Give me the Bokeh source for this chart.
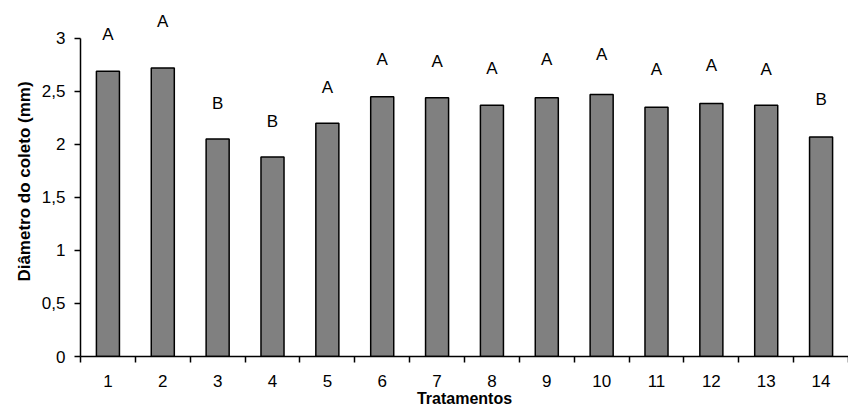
from bokeh.plotting import figure
from bokeh.models import ColumnDataSource, FixedTicker, LabelSet, Range1d
from bokeh.core.properties import value
from bokeh.embed import file_html
from bokeh.resources import INLINE

tratamentos = [1, 2, 3, 4, 5, 6, 7, 8, 9, 10, 11, 12, 13, 14]
diametro = [2.69, 2.72, 2.05, 1.88, 2.20, 2.45, 2.44, 2.37, 2.44, 2.47, 2.35, 2.385, 2.37, 2.07]
letras = ["A", "A", "B", "B", "A", "A", "A", "A", "A", "A", "A", "A", "A", "B"]
letra_y = [3.04, 3.16, 2.39, 2.22, 2.54, 2.80, 2.78, 2.72, 2.80, 2.85, 2.71, 2.74, 2.71, 2.42]
y_ticks = [0, 0.5, 1, 1.5, 2, 2.5, 3]
y_tick_labels = ["0", "0,5", "1", "1,5", "2", "2,5", "3"]

FONT = "Liberation Sans"

src = ColumnDataSource(dict(x=tratamentos, top=diametro, txt=letras, ly=letra_y))

p = figure(width=848, height=410, output_backend="svg", toolbar_location=None,
           x_range=Range1d(0.5, 14.5), y_range=Range1d(0, 3.3),
           min_border_left=80, min_border_right=0, min_border_top=6, min_border_bottom=54)
p.outline_line_color = None
p.grid.grid_line_color = None
p.background_fill_color = "white"
p.border_fill_color = "white"

p.vbar(x="x", top="top", width=0.42, bottom=0, source=src,
       fill_color="#808080", line_color="black", line_width=1.5)

labels = LabelSet(x="x", y="ly", text="txt", source=src, text_align="center",
                  text_baseline="middle", text_font=value(FONT), text_font_size="17px",
                  text_color="black")
p.add_layout(labels)

# x axis
xa = p.xaxis[0]
xa.ticker = FixedTicker(ticks=tratamentos, minor_ticks=[t - 0.5 for t in tratamentos] + [14.5])
xa.major_tick_out = 0
xa.major_tick_in = 0
xa.minor_tick_out = 6
xa.minor_tick_in = 0
xa.minor_tick_line_color = "black"
xa.minor_tick_line_width = 1.5
xa.axis_line_width = 1.5
xa.axis_line_color = "black"
xa.major_label_standoff = 12
xa.major_label_text_font = FONT
xa.major_label_text_font_size = "17px"
xa.major_label_text_color = "black"
xa.axis_label = "Tratamentos"
xa.axis_label_text_font = FONT
xa.axis_label_text_font_style = "bold"
xa.axis_label_text_font_size = "16px"
xa.axis_label_text_color = "black"
xa.axis_label_standoff = 0

# y axis
ya = p.yaxis[0]
ya.bounds = (0, 3)
ya.ticker = FixedTicker(ticks=y_ticks, minor_ticks=[])
ya.major_label_overrides = {t: l for t, l in zip(y_ticks, y_tick_labels)}
ya.major_tick_out = 6
ya.major_tick_in = 0
ya.major_tick_line_width = 1.5
ya.axis_line_width = 1.5
ya.axis_line_color = "black"
ya.major_label_standoff = 9
ya.major_label_text_font = FONT
ya.major_label_text_font_size = "17px"
ya.major_label_text_color = "black"
ya.axis_label = "Diâmetro do coleto (mm)"
ya.axis_label_text_font = FONT
ya.axis_label_text_font_style = "bold"
ya.axis_label_text_font_size = "17px"
ya.axis_label_text_color = "black"
ya.axis_label_standoff = 5

open("out.html", "w").write(file_html(p, INLINE))
